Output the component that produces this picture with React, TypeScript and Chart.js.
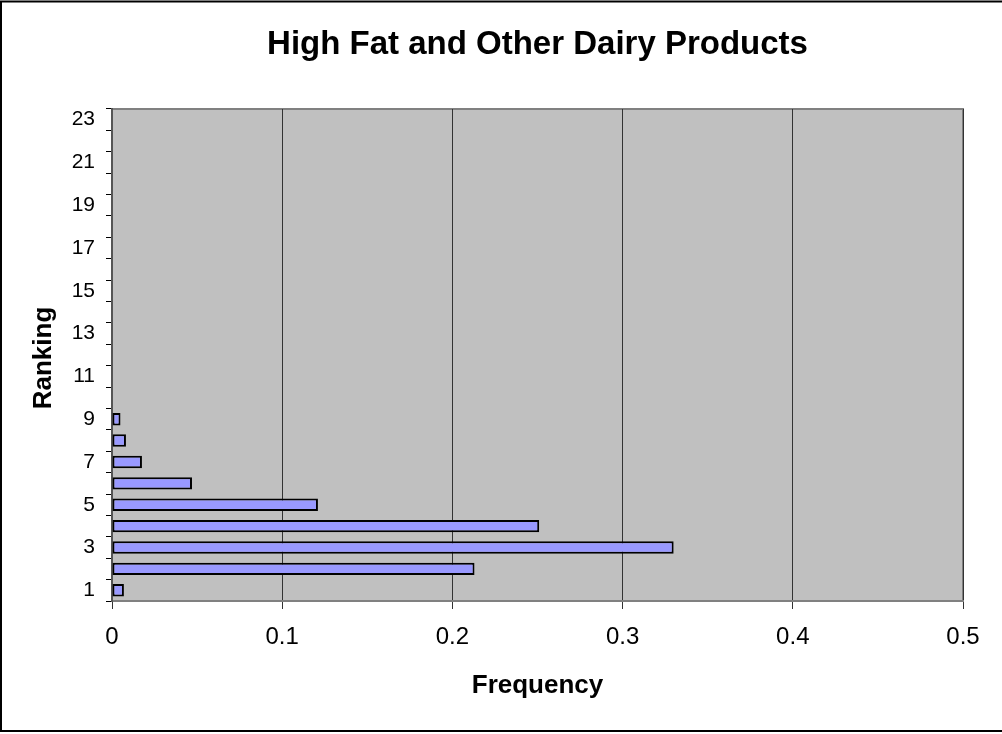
import React, { useEffect, useRef } from "react";
import { Chart, registerables } from "chart.js";

Chart.register(...registerables);

const categories: string[] = [
  "1", "2", "3", "4", "5", "6", "7", "8", "9", "10", "11", "12",
  "13", "14", "15", "16", "17", "18", "19", "20", "21", "22", "23",
];
const frequencies: number[] = [
  0.007, 0.213, 0.33, 0.251, 0.121, 0.047, 0.0176, 0.0082, 0.005,
  0, 0, 0, 0, 0, 0, 0, 0, 0, 0, 0, 0, 0, 0,
];
const titleText = "High Fat and Other Dairy Products";
const xTitle = "Frequency";
const yTitle = "Ranking";

const FONT = "'Liberation Sans', Arial, Helvetica, sans-serif";

const decorPlugin = {
  id: "decor",
  beforeDraw(chart: any) {
    const { ctx, chartArea } = chart;
    ctx.save();
    ctx.fillStyle = "#ffffff";
    ctx.fillRect(0, 0, chart.width, chart.height);
    ctx.fillStyle = "#C0C0C0";
    ctx.fillRect(chartArea.left, chartArea.top, chartArea.right - chartArea.left, chartArea.bottom - chartArea.top);
    ctx.strokeStyle = "#808080";
    ctx.lineWidth = 2;
    ctx.strokeRect(chartArea.left, chartArea.top, chartArea.right - chartArea.left, chartArea.bottom - chartArea.top);
    ctx.restore();
  },
  afterDraw(chart: any) {
    const { ctx, chartArea } = chart;
    ctx.save();
    // outer border
    ctx.strokeStyle = "#000000";
    ctx.lineWidth = 2;
    ctx.strokeRect(1, 1.5, 1020, 729.5);
    const cx = (chartArea.left + chartArea.right) / 2;
    const cy = (chartArea.top + chartArea.bottom) / 2;
    ctx.fillStyle = "#000000";
    ctx.textAlign = "center";
    ctx.textBaseline = "middle";
    ctx.font = `bold 33px ${FONT}`;
    ctx.fillText(titleText, cx, 45);
    ctx.font = `bold 26px ${FONT}`;
    ctx.fillText(xTitle, cx, 686);
    ctx.translate(44, cy + 3);
    ctx.rotate(-Math.PI / 2);
    ctx.fillText(yTitle, 0, 0);
    ctx.restore();
  },
};

export default function App() {
  const ref = useRef<HTMLCanvasElement | null>(null);
  useEffect(() => {
    if (!ref.current) return;
    const chart = new Chart(ref.current, {
      type: "bar",
      data: {
        labels: categories,
        datasets: [
          {
            data: frequencies,
            backgroundColor: "#9999FF",
            borderColor: "#000000",
            borderWidth: (c: any) => (c.raw > 0 ? 2 : 0),
            borderSkipped: false,
            barPercentage: 0.58,
            categoryPercentage: 1,
          },
        ],
      },
      options: {
        indexAxis: "y",
        animation: false,
        responsive: false,
        maintainAspectRatio: false,
        layout: { padding: { left: 0, right: 39, top: 109, bottom: 0 } },
        plugins: {
          legend: { display: false },
          title: { display: false },
          tooltip: { enabled: false },
        },
        scales: {
          x: {
            type: "linear",
            min: 0,
            max: 0.5,
            afterFit: (s: any) => {
              s.height = 133;
            },
            ticks: {
              stepSize: 0.1,
              color: "#000",
              padding: 14,
              font: { family: FONT, size: 24 },
              callback: (v: any) => String(Math.round(Number(v) * 10) / 10),
            },
            grid: {
              color: "#333333",
              lineWidth: 1,
              tickLength: 8,
              drawOnChartArea: true,
            },
            border: { color: "#808080", width: 2 },
          },
          y: {
            reverse: true,
            afterFit: (s: any) => {
              s.width = 112;
            },
            ticks: {
              autoSkip: false,
              color: "#000",
              padding: 11,
              font: { family: FONT, size: 21 },
              callback: (_v: any, i: number) => (i % 2 === 0 ? categories[i] : ""),
            },
            grid: {
              drawOnChartArea: false,
              drawTicks: true,
              tickLength: 6,
              color: "#000000",
              lineWidth: 1,
            },
            border: { color: "#555555", width: 2 },
          },
        },
      },
      plugins: [decorPlugin],
    } as any);
    return () => chart.destroy();
  }, []);
  return (
    <div style={{ position: "absolute", left: 0, top: 0, width: 1002, height: 734 }}>
      <canvas ref={ref} width={1002} height={734} />
    </div>
  );
}
